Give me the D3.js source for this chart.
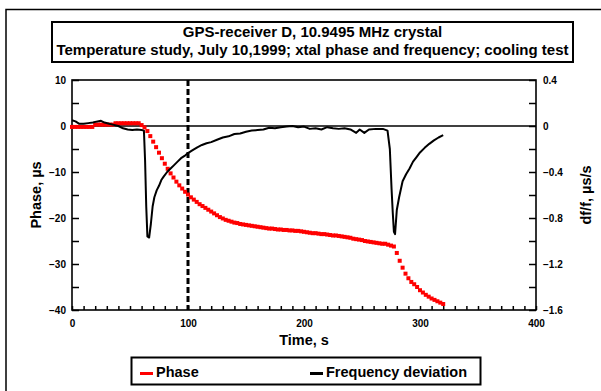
<!DOCTYPE html>
<html>
<head>
<meta charset="utf-8">
<script src="https://cdn.jsdelivr.net/npm/d3@7/dist/d3.min.js"></script>
<style>
  html, body { margin: 0; padding: 0; background: #fff; }
  svg { display: block; font-family: "Liberation Sans", Arial, sans-serif; font-weight: bold; }
</style>
</head>
<body>
<svg id="chart" width="601" height="391"></svg>
<script>
// Title and labels
const titleLines = ["GPS-receiver D, 10.9495 MHz crystal",
                    "Temperature study, July 10,1999; xtal phase and frequency; cooling test"];
const xLabel = "Time, s";
const yLeftLabel = "Phase, \u00b5s";
const yRightLabel = "df/f, \u00b5s/s";
const seriesNames = ["Phase", "Frequency deviation"];

// Axis ticks
const xTickLabels = [0, 100, 200, 300, 400];
const yLeftTickLabels = [10, 0, -10, -20, -30, -40];
const yRightTickLabels = [0.4, 0, -0.4, -0.8, -1.2, -1.6];
const markerTime = 100;

// Phase samples (time s, phase µs)
const phaseTime = [
  0, 2.5, 5, 7.5, 10, 12.5, 15, 17.5, 20, 22.5, 25, 27.5, 30, 32.5, 35,
  37.5, 40, 42.5, 45, 47.5, 50, 52.5, 55, 57.5, 60, 62.5, 65, 67.5, 70, 72.5,
  75, 77.5, 80, 82.5, 85, 87.5, 90, 92.5, 95, 97.5, 100, 102.5, 105, 107.5, 110,
  112.5, 115, 117.5, 120, 122.5, 125, 127.5, 130, 132.5, 135, 137.5, 140, 142.5, 145,
  147.5, 150, 152.5, 155, 157.5, 160, 162.5, 165, 167.5, 170, 172.5, 175, 177.5, 180,
  182.5, 185, 187.5, 190, 192.5, 195, 197.5, 200, 202.5, 205, 207.5, 210, 212.5, 215,
  217.5, 220, 222.5, 225, 227.5, 230, 232.5, 235, 237.5, 240, 242.5, 245, 247.5, 250,
  252.5, 255, 257.5, 260, 262.5, 265, 267.5, 270, 272.5, 275, 277.5, 280, 282.5, 285,
  287.5, 290, 292.5, 295, 297.5, 300, 302.5, 305, 307.5, 310, 312.5, 315, 317.5, 320
];
const phaseValue = [
  -0.2, -0.2, -0.2, -0.2, -0.2, -0.2, -0.2, -0.2, 0.3, 0.3, 0.3, 0.3, 0.3, 0.3, 0.3,
  0.6, 0.6, 0.6, 0.6, 0.6, 0.6, 0.6, 0.6, 0.6, 0.2, -0.3, -1.1, -2.2, -3.4, -4.6,
  -5.8, -7.0, -8.2, -9.3, -10.3, -11.2, -12.1, -12.9, -13.6, -14.3, -14.9, -15.5, -16.0, -16.5, -17.0,
  -17.4, -17.8, -18.2, -18.6, -19.0, -19.4, -19.8, -20.1, -20.4, -20.6, -20.8, -21.0, -21.1, -21.3,
  -21.4, -21.5, -21.6, -21.7, -21.8, -21.9, -22.0, -22.1, -22.2, -22.3, -22.3, -22.4, -22.5, -22.5,
  -22.6, -22.6, -22.7, -22.7, -22.8, -22.8, -22.9, -23.0, -23.1, -23.2, -23.3, -23.3, -23.4, -23.5,
  -23.5, -23.6, -23.7, -23.8, -23.8, -23.9, -24.0, -24.1, -24.2, -24.3, -24.5, -24.6, -24.7, -24.8,
  -25.0, -25.1, -25.2, -25.3, -25.4, -25.5, -25.6, -25.6, -25.8, -26.0, -26.2, -27.6, -29.3, -30.8,
  -32.1, -33.1, -33.9, -34.4, -35.0, -35.7, -36.2, -36.7, -37.1, -37.5, -37.8, -38.1, -38.4, -38.7
];

// Frequency deviation samples (time s, df/f µs/s)
const freqTime = [
  0, 3, 6, 10, 14, 18, 22, 25, 28, 32, 36, 40, 44, 48, 52, 56, 60, 62, 63, 64,
  65, 66.5, 68, 69.5, 71, 73, 75, 77, 79, 82, 85, 88, 91, 94, 97, 100, 104, 108, 112, 116,
  120, 125, 130, 135, 140, 145, 150, 155, 160, 165, 170, 175, 180, 185, 190, 195, 200, 205, 210, 215,
  220, 225, 230, 235, 240, 245, 248, 252, 256, 262, 268, 272, 274, 275.5, 276.5, 277.5, 278.5, 280, 282, 285,
  288, 291, 294, 297, 300, 304, 308, 312, 316, 320
];
const freqValue = [
  0.05, 0.04, 0.02, 0.02, 0.025, 0.03, 0.04, 0.045, 0.03, 0.02, 0.01, 0.0, -0.02, -0.03, -0.035, -0.03, -0.035, -0.04, -0.3, -0.7,
  -0.96, -0.97, -0.85, -0.70, -0.62, -0.56, -0.52, -0.47, -0.44, -0.40, -0.37, -0.34, -0.31, -0.28, -0.26, -0.235, -0.21, -0.185, -0.165, -0.15,
  -0.14, -0.12, -0.10, -0.09, -0.07, -0.065, -0.05, -0.04, -0.035, -0.03, -0.015, -0.02, -0.01, -0.005, 0.0, -0.01, -0.005, -0.025, -0.02, -0.03,
  -0.01, -0.02, -0.025, -0.02, -0.03, -0.06, -0.03, -0.06, -0.03, -0.025, -0.025, -0.04, -0.2, -0.55, -0.75, -0.92, -0.94, -0.73, -0.62, -0.48,
  -0.42, -0.37, -0.31, -0.27, -0.23, -0.19, -0.155, -0.125, -0.1, -0.08
];

const svg = d3.select("#chart");
const W = 601, H = 391;
const plot = { left: 72, right: 536, top: 80, bottom: 310 };
const fontFamily = "Liberation Sans, Arial, sans-serif";

// Outer frame
svg.append("rect")
  .attr("x", 6).attr("y", 9.5).attr("width", W).attr("height", H)
  .attr("fill", "none").attr("stroke", "#000").attr("stroke-width", 1.5);

// Title box
svg.append("rect")
  .attr("x", 52).attr("y", 22).attr("width", 521).attr("height", 40)
  .attr("fill", "#fff").attr("stroke", "#000").attr("stroke-width", 2);
svg.selectAll("text.title").data(titleLines).join("text")
  .attr("class", "title")
  .attr("x", 312.5).attr("y", (d, i) => 37 + i * 18)
  .attr("text-anchor", "middle").attr("font-size", 15)
  .text(d => d);

const x = d3.scaleLinear().domain([0, 400]).range([plot.left, plot.right]);
const yL = d3.scaleLinear().domain([-40, 10]).range([plot.bottom, plot.top]);
const yR = d3.scaleLinear().domain([-1.6, 0.4]).range([plot.bottom, plot.top]);

// Plot frame
svg.append("rect")
  .attr("x", plot.left).attr("y", plot.top)
  .attr("width", plot.right - plot.left).attr("height", plot.bottom - plot.top)
  .attr("fill", "none").attr("stroke", "#000").attr("stroke-width", 1.6);

// Zero line
svg.append("line")
  .attr("x1", plot.left).attr("x2", plot.right)
  .attr("y1", yL(0)).attr("y2", yL(0))
  .attr("stroke", "#000").attr("stroke-width", 1.6);

// Axes with inward ticks
function styleAxis(g) {
  g.select(".domain").remove();
  g.selectAll(".tick line").attr("stroke", "#000").attr("stroke-width", 1.5);
  g.selectAll(".tick text").attr("font-size", 10).attr("font-weight", "bold")
    .attr("font-family", fontFamily).attr("fill", "#000");
}

// Left axis: minor ticks every 5, labels every 10
svg.append("g")
  .attr("transform", `translate(${plot.left},0)`)
  .call(d3.axisRight(yL).tickValues(d3.range(-40, 10.1, 5)).tickSize(7).tickFormat(() => ""))
  .call(styleAxis);
svg.append("g")
  .attr("transform", `translate(${plot.left},0)`)
  .call(d3.axisLeft(yL).tickValues(yLeftTickLabels).tickSize(0).tickPadding(6).tickFormat(d3.format("d")))
  .call(styleAxis);

// Right axis: minor ticks every 0.2, labels every 0.4
svg.append("g")
  .attr("transform", `translate(${plot.right},0)`)
  .call(d3.axisLeft(yR).tickValues(d3.range(-1.6, 0.41, 0.2)).tickSize(7).tickFormat(() => ""))
  .call(styleAxis);
svg.append("g")
  .attr("transform", `translate(${plot.right},0)`)
  .call(d3.axisRight(yR).tickValues(yRightTickLabels).tickSize(0).tickPadding(7)
    .tickFormat(d => d === 0 ? "0" : d3.format(".1f")(d)))
  .call(styleAxis);

// Bottom axis: minor ticks every 10 s, labels every 100 s
svg.append("g")
  .attr("transform", `translate(0,${plot.bottom})`)
  .call(d3.axisTop(x).tickValues(d3.range(0, 401, 10)).tickSize(4).tickFormat(() => ""))
  .call(styleAxis);
svg.append("g")
  .attr("transform", `translate(0,${plot.bottom})`)
  .call(d3.axisBottom(x).tickValues(xTickLabels).tickSize(0).tickPadding(10).tickFormat(d3.format("d")))
  .call(styleAxis);

// Dashed marker at t = 100 s
svg.append("line")
  .attr("x1", x(markerTime)).attr("x2", x(markerTime))
  .attr("y1", plot.top).attr("y2", plot.bottom)
  .attr("stroke", "#000").attr("stroke-width", 3).attr("stroke-dasharray", "6,3");

// Phase series: red square markers
const phase = phaseTime.map((t, i) => ({ t, v: phaseValue[i] }));
svg.append("g").selectAll("rect").data(phase).join("rect")
  .attr("x", d => x(d.t) - 2).attr("y", d => yL(d.v) - 2)
  .attr("width", 4).attr("height", 4)
  .attr("fill", "#ff0000");

// Frequency deviation line
const freq = freqTime.map((t, i) => ({ t, v: freqValue[i] }));
svg.append("path")
  .datum(freq)
  .attr("d", d3.line().x(d => x(d.t)).y(d => yR(d.v)))
  .attr("fill", "none").attr("stroke", "#000").attr("stroke-width", 2)
  .attr("stroke-linejoin", "round");

// Axis titles
svg.append("text")
  .attr("transform", `translate(36,${(plot.top + plot.bottom) / 2}) rotate(-90)`)
  .attr("text-anchor", "middle").attr("dy", "0.35em").attr("font-size", 14.5)
  .text(yLeftLabel);
svg.append("text")
  .attr("transform", `translate(586,${(plot.top + plot.bottom) / 2}) rotate(-90)`)
  .attr("text-anchor", "middle").attr("dy", "0.35em").attr("font-size", 14.5)
  .text(yRightLabel);
svg.append("text")
  .attr("x", (plot.left + plot.right) / 2).attr("y", 345)
  .attr("text-anchor", "middle").attr("font-size", 14.5)
  .text(xLabel);

// Legend
svg.append("rect")
  .attr("x", 131.5).attr("y", 357.5).attr("width", 349).attr("height", 27)
  .attr("fill", "#fff").attr("stroke", "#000").attr("stroke-width", 2);
const legendItems = [
  { name: seriesNames[0], color: "#ff0000", x: 140 },
  { name: seriesNames[1], color: "#000", x: 310 }
];
const lg = svg.append("g").selectAll("g").data(legendItems).join("g");
lg.append("rect")
  .attr("x", d => d.x).attr("y", 372).attr("width", 13).attr("height", 3)
  .attr("fill", d => d.color);
lg.append("text")
  .attr("x", d => d.x + 16).attr("y", 377)
  .attr("font-size", 14.5)
  .text(d => d.name);
</script>
</body>
</html>
